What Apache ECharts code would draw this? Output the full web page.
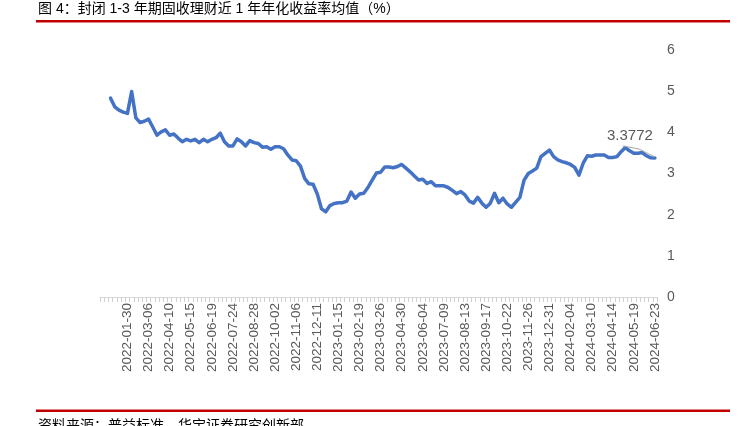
<!DOCTYPE html>
<html>
<head>
<meta charset="utf-8">
<script src="https://cdn.jsdelivr.net/npm/echarts@6/dist/echarts.min.js"></script>
<style>
html,body{margin:0;padding:0;background:#fff;}
#chart{width:738px;height:426px;}
</style>
</head>
<body>
<div id="chart"></div>
<script>
var titleText = '图 4：封闭 1-3 年期固收理财近 1 年年化收益率均值（%）';
var sourceText = '资料来源：普益标准，华宝证券研究创新部';
var yTicks = [0, 1, 2, 3, 4, 5, 6];

var categories = [
  '2021-12-19','2021-12-26',
  '2022-01-02','2022-01-09','2022-01-16','2022-01-23','2022-01-30','2022-02-06','2022-02-13','2022-02-20','2022-02-27','2022-03-06',
  '2022-03-13','2022-03-20','2022-03-27','2022-04-03','2022-04-10','2022-04-17','2022-04-24','2022-05-01','2022-05-08','2022-05-15',
  '2022-05-22','2022-05-29','2022-06-05','2022-06-12','2022-06-19','2022-06-26','2022-07-03','2022-07-10','2022-07-17','2022-07-24',
  '2022-07-31','2022-08-07','2022-08-14','2022-08-21','2022-08-28','2022-09-04','2022-09-11','2022-09-18','2022-09-25','2022-10-02',
  '2022-10-09','2022-10-16','2022-10-23','2022-10-30','2022-11-06','2022-11-13','2022-11-20','2022-11-27','2022-12-04','2022-12-11',
  '2022-12-18','2022-12-25','2023-01-01','2023-01-08','2023-01-15','2023-01-22','2023-01-29','2023-02-05','2023-02-12','2023-02-19',
  '2023-02-26','2023-03-05','2023-03-12','2023-03-19','2023-03-26','2023-04-02','2023-04-09','2023-04-16','2023-04-23','2023-04-30',
  '2023-05-07','2023-05-14','2023-05-21','2023-05-28','2023-06-04','2023-06-11','2023-06-18','2023-06-25','2023-07-02','2023-07-09',
  '2023-07-16','2023-07-23','2023-07-30','2023-08-06','2023-08-13','2023-08-20','2023-08-27','2023-09-03','2023-09-10','2023-09-17',
  '2023-09-24','2023-10-01','2023-10-08','2023-10-15','2023-10-22','2023-10-29','2023-11-05','2023-11-12','2023-11-19','2023-11-26',
  '2023-12-03','2023-12-10','2023-12-17','2023-12-24','2023-12-31','2024-01-07','2024-01-14','2024-01-21','2024-01-28','2024-02-04',
  '2024-02-11','2024-02-18','2024-02-25','2024-03-03','2024-03-10','2024-03-17','2024-03-24','2024-03-31','2024-04-07','2024-04-14',
  '2024-04-21','2024-04-28','2024-05-05','2024-05-12','2024-05-19','2024-05-26','2024-06-02','2024-06-09','2024-06-16','2024-06-23'
];

var yieldValues = [
  null, null,
  4.83, 4.62, 4.54, 4.49, 4.46, 4.99, 4.35, 4.24, 4.27, 4.32,
  4.13, 3.93, 4.01, 4.06, 3.93, 3.96, 3.86, 3.77, 3.83, 3.79,
  3.83, 3.75, 3.83, 3.77, 3.83, 3.87, 3.98, 3.77, 3.67, 3.67,
  3.84, 3.77, 3.67, 3.80, 3.75, 3.73, 3.64, 3.65, 3.59, 3.65,
  3.65, 3.60, 3.45, 3.33, 3.31, 3.18, 2.88, 2.75, 2.74, 2.50,
  2.14, 2.07, 2.22, 2.27, 2.29, 2.29, 2.33, 2.55, 2.40, 2.50,
  2.52, 2.66, 2.84, 3.01, 3.03, 3.16, 3.16, 3.14, 3.17, 3.22,
  3.13, 3.04, 2.94, 2.84, 2.86, 2.76, 2.80, 2.70, 2.70, 2.70,
  2.66, 2.59, 2.51, 2.56, 2.48, 2.33, 2.28, 2.42, 2.28, 2.18,
  2.28, 2.52, 2.29, 2.40, 2.26, 2.18, 2.30, 2.42, 2.84, 3.00,
  3.06, 3.13, 3.41, 3.49, 3.57, 3.41, 3.33, 3.29, 3.26, 3.22,
  3.15, 2.96, 3.25, 3.43, 3.42, 3.45, 3.45, 3.45, 3.39, 3.39,
  3.41, 3.53, 3.63, 3.55, 3.49, 3.49, 3.51, 3.43, 3.38, 3.3772
];

var firstLabelIndex = categories.indexOf('2022-01-30');
var labelStep = 5;
var lastIdx = yieldValues.length - 1;
var labelDx = -25, labelDy = -10;

var seriesData = yieldValues.map(function (v, i) {
  if (i === lastIdx) {
    return {
      value: v,
      label: { show: true, position: 'top', formatter: '{c}', color: '#595959',
               fontSize: 15, fontFamily: 'Liberation Sans, Arial, sans-serif' }
    };
  }
  return v;
});

var baseGraphic = [
  { id: 'title', type: 'text', left: 38, top: 2,
    style: { text: titleText, fill: '#000', fontSize: 14,
             fontFamily: 'Liberation Sans, Noto Sans CJK SC, sans-serif' } },
  { id: 'topRule', type: 'rect', shape: { x: 36, y: 20, width: 694, height: 2.5 }, style: { fill: '#c00000' } },
  { id: 'bottomRule', type: 'rect', shape: { x: 36, y: 409.5, width: 694, height: 2.5 }, style: { fill: '#c00000' } },
  { id: 'source', type: 'text', left: 38, top: 418,
    style: { text: sourceText, fill: '#000', fontSize: 14,
             fontFamily: 'Noto Sans CJK SC, sans-serif' } }
];

var chart = echarts.init(document.getElementById('chart'), null, { renderer: 'canvas' });
chart.setOption({
  animation: false,
  backgroundColor: '#ffffff',
  grid: { left: 100, right: 81, top: 50, bottom: 129 },
  graphic: baseGraphic,
  xAxis: {
    type: 'category',
    data: categories,
    boundaryGap: true,
    axisLine: { show: true, lineStyle: { color: '#d9d9d9', width: 1 } },
    axisTick: { show: true, interval: 0, length: 5, lineStyle: { color: '#d0d0d0' } },
    axisLabel: {
      rotate: 90,
      color: '#595959',
      fontSize: 13.5,
      fontFamily: 'Liberation Sans, Arial, sans-serif',
      margin: 6,
      interval: function (i) { return i >= firstLabelIndex && (i - firstLabelIndex) % labelStep === 0; }
    },
    splitLine: { show: false }
  },
  yAxis: {
    type: 'value',
    position: 'right',
    min: yTicks[0],
    max: yTicks[yTicks.length - 1],
    interval: 1,
    axisLine: { show: false },
    axisTick: { show: false },
    splitLine: { show: false },
    axisLabel: { color: '#595959', fontSize: 14, margin: 10,
                 fontFamily: 'Liberation Sans, Arial, sans-serif' }
  },
  series: [{
    type: 'line',
    data: seriesData,
    showSymbol: true,
    symbol: 'circle',
    symbolSize: 0.01,
    z: 3,
    itemStyle: { color: '#4472c4' },
    lineStyle: { color: '#4472c4', width: 3.5, cap: 'round', join: 'round' },
    labelLayout: { dx: labelDx, dy: labelDy },
    connectNulls: false
  }]
});

// leader line from the moved data label to its point (Excel-style)
var pt = chart.convertToPixel({ seriesIndex: 0 }, [lastIdx, yieldValues[lastIdx]]);
var labelBottom = pt[1] - 5 + labelDy;
var labelLeaderX = pt[0] + labelDx - 7;
chart.setOption({
  graphic: baseGraphic.concat([{
    id: 'leader', type: 'polyline', z: 50,
    shape: { points: [[labelLeaderX, labelBottom + 3], [pt[0] - 16, pt[1] - 9], [pt[0], pt[1] - 1]] },
    style: { stroke: '#a6a6a6', lineWidth: 1, fill: null }
  }])
});
</script>
</body>
</html>
